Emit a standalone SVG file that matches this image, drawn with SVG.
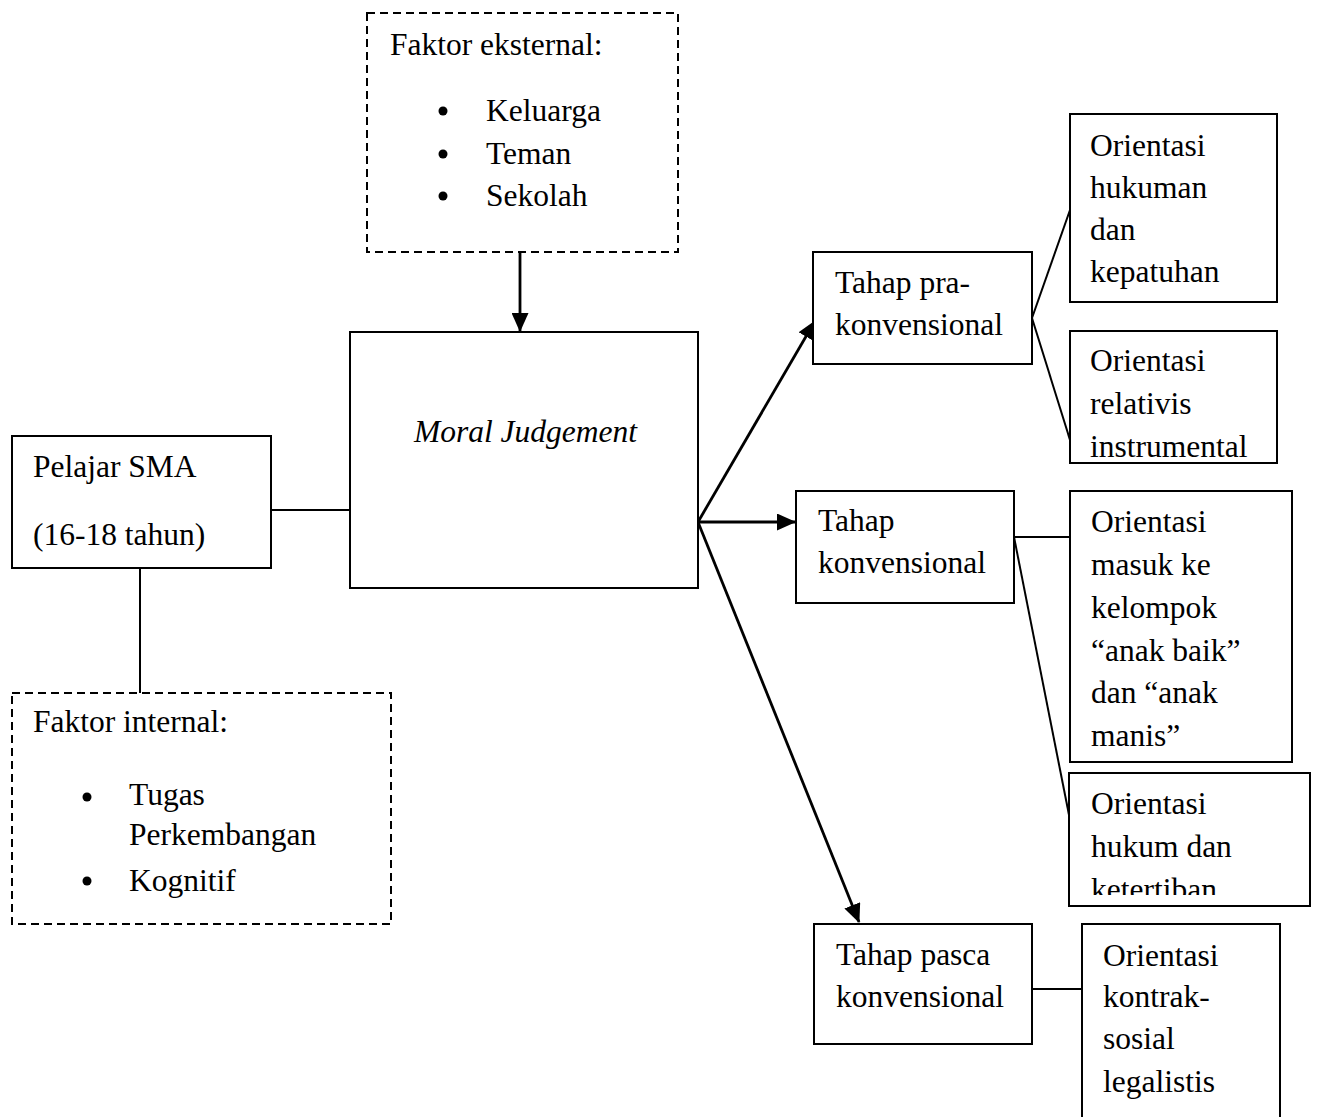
<svg xmlns="http://www.w3.org/2000/svg" width="1318" height="1117" viewBox="0 0 1318 1117">
<style>
.box{fill:#fff;stroke:#000;stroke-width:2}
.dash{fill:#fff;stroke:#000;stroke-width:2;stroke-dasharray:8 5}
.t{font-family:"Liberation Serif","Times New Roman",serif;font-size:31.5px;fill:#000}
.ln{stroke:#000;stroke-width:2;fill:none}
.ar{stroke:#000;stroke-width:2.8;fill:none;marker-end:url(#ah)}
</style>
<defs>
<marker id="ah" markerUnits="userSpaceOnUse" markerWidth="19" markerHeight="17" refX="18" refY="8.5" orient="auto">
<path d="M0,0 L19,8.5 L0,17 Z" fill="#000"/>
</marker>
<clipPath id="clipHukum"><rect x="1069" y="773" width="241" height="122"/></clipPath>
</defs>

<g id="connectors">
<line class="ar" x1="520" y1="253" x2="520" y2="331"/>
<line class="ln" x1="271" y1="510" x2="350" y2="510"/>
<line class="ln" x1="140" y1="568" x2="140" y2="693"/>
<line class="ar" x1="698" y1="522" x2="815" y2="321"/>
<line class="ar" x1="698" y1="522" x2="795" y2="522"/>
<line class="ar" x1="698" y1="522" x2="859" y2="922"/>
<line class="ln" x1="1032" y1="318" x2="1070" y2="210"/>
<line class="ln" x1="1032" y1="318" x2="1070" y2="440"/>
<line class="ln" x1="1014" y1="537" x2="1070" y2="537"/>
<line class="ln" x1="1014" y1="537" x2="1070" y2="820"/>
<line class="ln" x1="1032" y1="989" x2="1082" y2="989"/>
</g>

<g id="faktor-eksternal">
<rect class="dash" x="367" y="13" width="311" height="239"/>
<text class="t" x="390" y="55">Faktor eksternal:</text>
<circle cx="443" cy="111" r="4.5"/>
<circle cx="443" cy="154" r="4.5"/>
<circle cx="443" cy="196" r="4.5"/>
<text class="t" x="486" y="121">Keluarga</text>
<text class="t" x="486" y="164">Teman</text>
<text class="t" x="486" y="206">Sekolah</text>
</g>

<g id="moral-judgement">
<rect class="box" x="350" y="332" width="348" height="256"/>
<text class="t" x="637" y="442" font-style="italic" text-anchor="end">Moral Judgement</text>
</g>

<g id="pelajar-sma">
<rect class="box" x="12" y="436" width="259" height="132"/>
<text class="t" x="33" y="477">Pelajar SMA</text>
<text class="t" x="33" y="545">(16-18 tahun)</text>
</g>

<g id="faktor-internal">
<rect class="dash" x="12" y="693" width="379" height="231"/>
<text class="t" x="33" y="732">Faktor internal:</text>
<circle cx="87" cy="797" r="4.5"/>
<circle cx="87" cy="881" r="4.5"/>
<text class="t" x="129" y="805">Tugas</text>
<text class="t" x="129" y="845">Perkembangan</text>
<text class="t" x="129" y="891">Kognitif</text>
</g>

<g id="tahap-pra">
<rect class="box" x="813" y="252" width="219" height="112"/>
<text class="t" x="835" y="293">Tahap pra-</text>
<text class="t" x="835" y="335">konvensional</text>
</g>

<g id="tahap-konvensional">
<rect class="box" x="796" y="491" width="218" height="112"/>
<text class="t" x="818" y="531">Tahap</text>
<text class="t" x="818" y="573">konvensional</text>
</g>

<g id="tahap-pasca">
<rect class="box" x="814" y="924" width="218" height="120"/>
<text class="t" x="836" y="965">Tahap pasca</text>
<text class="t" x="836" y="1007">konvensional</text>
</g>

<g id="orientasi-hukuman">
<rect class="box" x="1070" y="114" width="207" height="188"/>
<text class="t" x="1090" y="156">Orientasi</text>
<text class="t" x="1090" y="198">hukuman</text>
<text class="t" x="1090" y="240">dan</text>
<text class="t" x="1090" y="282">kepatuhan</text>
</g>

<g id="orientasi-relativis">
<rect class="box" x="1070" y="331" width="207" height="132"/>
<text class="t" x="1090" y="371">Orientasi</text>
<text class="t" x="1090" y="414">relativis</text>
<text class="t" x="1090" y="457">instrumental</text>
</g>

<g id="orientasi-masuk">
<rect class="box" x="1070" y="491" width="222" height="271"/>
<text class="t" x="1091" y="532">Orientasi</text>
<text class="t" x="1091" y="575">masuk ke</text>
<text class="t" x="1091" y="618">kelompok</text>
<text class="t" x="1091" y="661">“anak baik”</text>
<text class="t" x="1091" y="703">dan “anak</text>
<text class="t" x="1091" y="746">manis”</text>
</g>

<g id="orientasi-hukum">
<rect class="box" x="1069" y="773" width="241" height="133"/>
<g clip-path="url(#clipHukum)">
<text class="t" x="1091" y="814">Orientasi</text>
<text class="t" x="1091" y="857">hukum dan</text>
<text class="t" x="1091" y="900">ketertiban</text>
</g>
</g>

<g id="orientasi-kontrak">
<rect class="box" x="1082" y="924" width="198" height="200"/>
<text class="t" x="1103" y="966">Orientasi</text>
<text class="t" x="1103" y="1007">kontrak-</text>
<text class="t" x="1103" y="1049">sosial</text>
<text class="t" x="1103" y="1092">legalistis</text>
</g>
</svg>
